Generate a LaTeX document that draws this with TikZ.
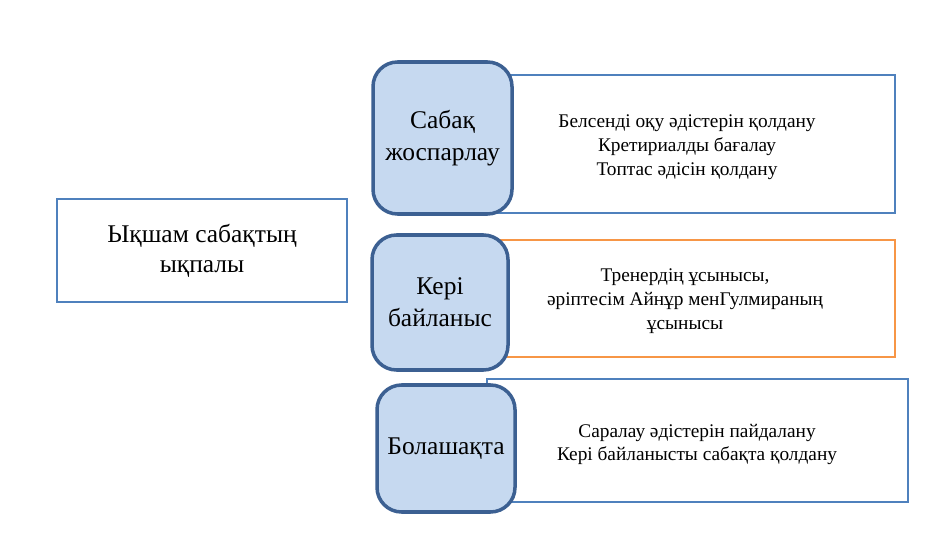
\documentclass[tikz,border=0pt]{standalone}
\usepackage{fontspec}
\setmainfont{Liberation Serif}
\definecolor{edgeblue}{RGB}{79,129,189}
\definecolor{darkblue}{RGB}{60,96,146}
\definecolor{lightblue}{RGB}{198,217,240}
\definecolor{orangeline}{RGB}{247,150,70}
\begin{document}
\begin{tikzpicture}[x=0.02cm, y=-0.02cm, info/.style={rectangle, draw=edgeblue, line width=1.6pt, align=center, font=\fontsize{11}{13.6}\selectfont, inner sep=0pt}, topic/.style={rectangle, rounded corners=14pt, draw=darkblue, fill=lightblue, line width=2pt, align=center, font=\fontsize{14.5}{18}\selectfont, inner sep=2pt}, main/.style={rectangle, draw=edgeblue, line width=1.6pt, align=center, font=\fontsize{14.5}{17}\selectfont}]
            \useasboundingbox (0,0) rectangle (935,540);
            % main box
            \node[main, minimum width=290*0.02cm, minimum height=103*0.02cm] (effect) at (202,250.5) {Ықшам сабақтың\\ықпалы};
            % detail boxes
            \node[info, minimum width=400*0.02cm, minimum height=138*0.02cm] (plan) at (695,144) {};
            \node[info, draw=orangeline, minimum width=400*0.02cm, minimum height=117*0.02cm] (feed) at (695,298.5) {};
            \node[info, minimum width=421*0.02cm, minimum height=123*0.02cm] (future) at (697.5,440.5) {};
            \node[info, draw=none] (plantext) at (687,147) {Белсенді оқу әдістерін қолдану\\Кретириалды бағалау\\Топтас әдісін қолдану};
            \node[info, draw=none] (feedtext) at (685,301) {Тренердің ұсынысы,\\әріптесім Айнұр менГулмираның\\ұсынысы};
            \node[info, draw=none] (futuretext) at (697,444.5) {Саралау әдістерін пайдалану\\Кері байланысты сабақта қолдану};
            % topic boxes
            \node[topic, minimum width=139*0.02cm, minimum height=152*0.02cm] (t1) at (442.5,138) {Сабақ\\жоспарлау};
            \node[topic, minimum width=136*0.02cm, minimum height=135*0.02cm] (t2) at (440,302.5) {Кері\\байланыс};
            \node[topic, minimum width=138*0.02cm, minimum height=127*0.02cm] (t3) at (446,448.5) {Болашақта};
\end{tikzpicture}
\end{document}
